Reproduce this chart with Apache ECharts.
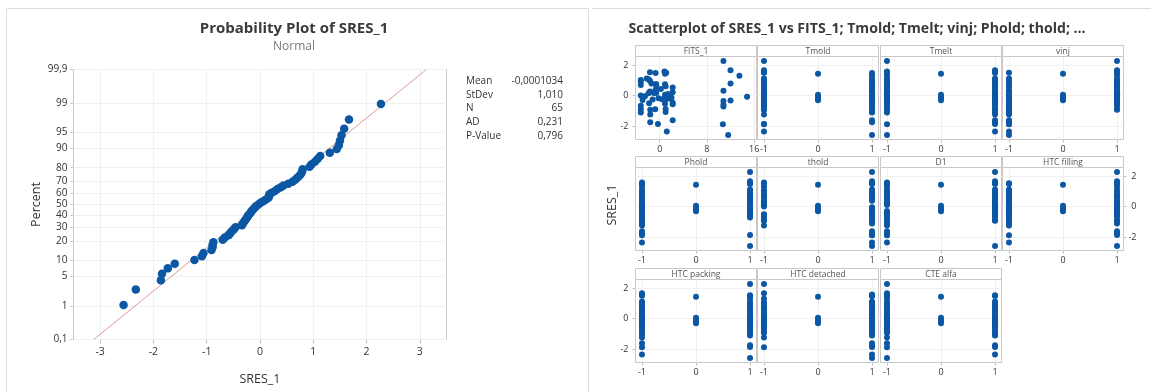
<!DOCTYPE html>
<html>
<head>
<meta charset="utf-8">
<script src="https://cdn.jsdelivr.net/npm/echarts@6/dist/echarts.min.js"></script>
<style>
  html, body { margin: 0; padding: 0; background: #ffffff; }
  #chart { width: 1151px; height: 392px; }
</style>
</head>
<body>
<div id="chart"></div>
<script>
// ---- Data -------------------------------------------------------------
// Standardized residuals SRES_1, one per run, in ascending order
const sres = [
  -2.56, -2.33, -1.86, -1.84, -1.73, -1.60, -1.23, -1.09, -1.06, -0.91,
  -0.89, -0.89, -0.875, -0.70, -0.66, -0.59, -0.56, -0.53, -0.49, -0.46,
  -0.34, -0.32, -0.30, -0.275, -0.25, -0.23, -0.21, -0.18, -0.16, -0.13,
  -0.10, -0.075, -0.03, 0.01, 0.06, 0.11, 0.16, 0.17, 0.175, 0.22,
  0.28, 0.33, 0.39, 0.44, 0.53, 0.61, 0.66, 0.70, 0.74, 0.77,
  0.79, 0.80, 0.93, 0.97, 1.03, 1.08, 1.13, 1.31, 1.44, 1.48,
  1.50, 1.53, 1.58, 1.67, 2.27
];
// Fitted values FITS_1 for the same runs
const fits = [
  11.6, 1.2, 10.7, -0.3, -1.6, 2.2, -1.6, -3.2, 1.0, -1.6,
  -0.75, -3.2, 1.0, 10.8, -3.2, 10.8, 2.2, 0.9, -1.8, 2.2,
  10.8, 12.0, 0.9, -2.9, -1.2, 0.4, 0.9, 1.6, -0.2, 2.0,
  0.9, 14.8, -2.5, -3.2, 0.9, 1.4, -1.9, -0.6, -1.0, 2.2,
  -1.65, 10.8, -0.7, 0.2, 2.2, 1.0, -0.6, -3.2, 0.9, -0.6,
  -1.4, 12.0, -3.2, -1.65, -3.2, -1.9, -2.2, 13.5, 0.9, -0.7,
  1.1, -1.65, 0.8, 12.0, 10.8
];
// Coded factor settings (-1 / 0 / +1) for the same runs
const tmold = [
  1,-1,-1,-1,1,1,-1,1,1,-1, 1,-1,1,-1,1,-1,1,-1,1,-1, 1,-1,0,1,-1,1,0,-1,1,-1,
  0,1,-1,1,0,-1,1,-1,1,-1, 1,-1,1,-1,1,-1,1,-1,1,-1, 1,1,-1,1,-1,1,-1,1,0,1, -1,-1,-1,-1,-1
];
const tmelt = [
  -1,1,-1,1,1,1,1,-1,1,-1, 1,-1,1,-1,1,1,-1,1,-1,1, -1,1,0,-1,1,-1,0,-1,1,1,
  0,-1,1,-1,0,1,-1,1,-1,1, -1,1,-1,1,-1,1,-1,1,1,-1, 1,-1,1,-1,1,-1,1,-1,0,1, -1,1,-1,1,-1
];
const vinj = [
  -1,-1,-1,-1,-1,-1,-1,-1,-1,1, -1,1,-1,-1,1,-1,1,-1,1,-1, 1,-1,0,1,-1,1,0,-1,1,-1,
  0,1,-1,1,0,-1,1,-1,1,1, -1,1,-1,1,1,-1,1,-1,1,1, -1,1,1,-1,1,1,-1,1,0,1, -1,1,1,1,1
];
const phold = [
  1,-1,-1,1,-1,-1,-1,-1,-1,-1, -1,-1,-1,1,-1,1,-1,1,-1,1, -1,1,0,1,-1,1,0,-1,1,-1,
  0,-1,1,-1,0,-1,1,-1,1,-1, 1,-1,1,-1,1,-1,1,-1,1,-1, 1,-1,1,-1,1,-1,1,-1,0,1, -1,1,-1,1,1
];
const thold = [
  1,1,1,1,1,1,-1,1,1,-1, 1,-1,1,-1,1,-1,1,-1,-1,1, 1,1,0,1,1,1,0,1,1,1,
  0,1,1,-1,0,-1,-1,-1,-1,-1, -1,-1,1,-1,1,-1,1,-1,1,-1, 1,-1,1,-1,1,-1,1,-1,0,1, -1,1,-1,1,1
];
const d1 = [
  1,-1,-1,-1,-1,-1,-1,-1,-1,1, 1,-1,1,-1,1,-1,1,-1,-1,1, -1,1,0,-1,1,1,0,1,1,1,
  0,1,1,1,0,-1,1,-1,1,-1, 1,-1,1,-1,1,-1,1,-1,1,-1, 1,-1,1,-1,1,-1,1,-1,0,1, -1,1,-1,1,1
];
const htcFilling = [
  1,-1,-1,1,1,1,-1,1,-1,1, -1,1,-1,-1,1,-1,1,-1,1,-1, 1,-1,0,-1,1,-1,0,1,-1,1,
  0,-1,1,-1,0,1,-1,1,-1,1, -1,1,-1,1,-1,1,-1,1,-1,1, -1,1,-1,1,-1,1,-1,1,0,-1, 1,-1,1,1,1
];
const htcPacking = [
  1,-1,-1,1,1,-1,-1,1,-1,1, -1,1,-1,1,-1,1,-1,1,-1,1, -1,1,0,-1,1,-1,0,1,-1,1,
  0,-1,1,-1,0,1,-1,1,-1,1, -1,1,-1,1,-1,1,-1,1,-1,1, -1,1,-1,1,-1,1,-1,1,0,1, -1,1,-1,-1,1
];
const htcDetached = [
  1,1,-1,1,1,1,-1,1,1,-1, 1,-1,1,-1,1,-1,1,-1,1,-1, 1,-1,0,1,-1,1,0,-1,1,-1,
  0,1,-1,1,0,-1,1,-1,1,-1, 1,-1,1,-1,1,-1,1,-1,1,-1, 1,-1,1,-1,1,-1,1,-1,0,1, 1,1,1,-1,-1
];
const cteAlfa = [
  -1,1,-1,1,1,-1,-1,1,1,-1, 1,-1,1,-1,1,-1,1,-1,1,-1, 1,-1,0,1,-1,1,0,-1,1,-1,
  0,1,-1,1,0,-1,1,-1,1,-1, 1,-1,1,-1,1,-1,1,-1,1,-1, 1,-1,1,-1,1,-1,1,-1,0,1, -1,1,-1,-1,-1
];

const panelTitles = ['FITS_1', 'Tmold', 'Tmelt', 'vinj', 'Phold', 'thold', 'D1',
                     'HTC filling', 'HTC packing', 'HTC detached', 'CTE alfa'];
const panelX = [fits, tmold, tmelt, vinj, phold, thold, d1,
                htcFilling, htcPacking, htcDetached, cteAlfa];

// Normal-fit summary shown beside the probability plot
const statLabels = ['Mean', 'StDev', 'N', 'AD', 'P-Value'];
const statValues = ['-0,0001034', '1,010', '65', '0,231', '0,796'];
const fitMean = -0.0001034;
const fitStDev = 1.010;

// Tick values
const percentTicks = [0.1, 1, 5, 10, 20, 30, 40, 50, 60, 70, 80, 90, 95, 99, 99.9];
const sresTicks = [-3, -2, -1, 0, 1, 2, 3];
const fitsTicks = [0, 8, 16];
const levelTicks = [-1, 0, 1];
const residTicks = [-2, 0, 2];

// ---- Helpers ------------------------------------------------------------
// Inverse of the standard normal CDF (Acklam's rational approximation)
function normInv(p) {
  const a = [-3.969683028665376e+01, 2.209460984245205e+02, -2.759285104469687e+02,
             1.383577518672690e+02, -3.066479806614716e+01, 2.506628277459239e+00];
  const b = [-5.447609879822406e+01, 1.615858368580409e+02, -1.556989798598866e+02,
             6.680131188771972e+01, -1.328068155288572e+01];
  const c = [-7.784894002430293e-03, -3.223964580411365e-01, -2.400758277161838e+00,
             -2.549732539343734e+00, 4.374664141464968e+00, 2.938163982698783e+00];
  const d = [7.784695709041462e-03, 3.224671290700398e-01, 2.445134137142996e+00,
             3.754408661907416e+00];
  const pl = 0.02425, ph = 1 - pl;
  let q, r;
  if (p < pl) {
    q = Math.sqrt(-2 * Math.log(p));
    return (((((c[0]*q+c[1])*q+c[2])*q+c[3])*q+c[4])*q+c[5]) / ((((d[0]*q+d[1])*q+d[2])*q+d[3])*q+1);
  }
  if (p <= ph) {
    q = p - 0.5; r = q * q;
    return (((((a[0]*r+a[1])*r+a[2])*r+a[3])*r+a[4])*r+a[5])*q / (((((b[0]*r+b[1])*r+b[2])*r+b[3])*r+b[4])*r+1);
  }
  q = Math.sqrt(-2 * Math.log(1 - p));
  return -(((((c[0]*q+c[1])*q+c[2])*q+c[3])*q+c[4])*q+c[5]) / ((((d[0]*q+d[1])*q+d[2])*q+d[3])*q+1);
}

const FONT = "'Open Sans', 'Noto Sans', sans-serif";
const BLUE = '#0b57a4';
const FRAME = '#c8c8c8';
const GRIDLINE = '#f0f0f0';
const TEXT = '#333333';

// horizontal / vertical gridline segments spanning an axis range
const hLines = (vals, x0, x1) => vals.map(v => [{ coord: [x0, v] }, { coord: [x1, v] }]);
const vLines = (vals, y0, y1) => vals.map(v => [{ coord: [v, y0] }, { coord: [v, y1] }]);
const gridLineSeries = (idx, lines) => ({
  type: 'line', xAxisIndex: idx, yAxisIndex: idx, data: [], z: 1, silent: true,
  markLine: { silent: true, symbol: ['none', 'none'], z: 1, animation: false,
    label: { show: false }, emphasis: { disabled: true },
    lineStyle: { color: GRIDLINE, width: 1, type: 'solid' }, data: lines }
});

// ---- Probability plot --------------------------------------------------
const n = sres.length;
const zLo = normInv(0.001), zHi = normInv(0.999);
const percentZ = percentTicks.map(p => normInv(p / 100));
// Benard median ranks
const probPoints = sres.map((v, i) => [v, normInv((i + 1 - 0.3) / (n + 0.4))]);
const fitLine = [[fitMean + fitStDev * zLo, zLo], [fitMean + fitStDev * zHi, zHi]];

const fmtPercent = v => {
  const k = percentZ.findIndex(z => Math.abs(z - v) < 1e-6);
  return k < 0 ? '' : String(percentTicks[k]).replace('.', ',');
};

const grids = [{ left: 73.5, top: 69.5, width: 373, height: 270, show: true,
                 borderColor: FRAME, borderWidth: 1, backgroundColor: '#fff',
                 containLabel: false, outerBoundsMode: 'none' }];
const xAxes = [{
  gridIndex: 0, type: 'value', min: -3.5, max: 3.5, interval: 0.5,
  axisLine: { show: false, onZero: false },
  axisTick: { show: true, customValues: sresTicks, length: 4, lineStyle: { color: '#bdbdbd' } },
  axisLabel: { customValues: sresTicks, fontSize: 10.5, color: TEXT, fontFamily: FONT, margin: 7 },
  splitLine: { show: true, lineStyle: { color: GRIDLINE, width: 1 } },
  name: 'SRES_1', nameLocation: 'middle', nameGap: 33,
  nameTextStyle: { fontSize: 12.5, color: TEXT, fontFamily: FONT }
}];
const yAxes = [{
  gridIndex: 0, type: 'value', min: zLo - 1e-9, max: zHi + 1e-9,
  axisLine: { show: false, onZero: false },
  axisTick: { show: true, customValues: percentZ, length: 3, lineStyle: { color: '#bdbdbd' } },
  axisLabel: { customValues: percentZ, formatter: fmtPercent, fontSize: 10, color: TEXT,
               fontFamily: FONT, margin: 6, showMaxLabel: true, showMinLabel: true,
               hideOverlap: false },
  splitLine: { show: false },
  name: 'Percent', nameLocation: 'middle', nameGap: 31,
  nameTextStyle: { fontSize: 12.5, color: TEXT, fontFamily: FONT }
}];
const series = [
  gridLineSeries(0, hLines(percentZ, -3.5, 3.5)),
  { type: 'line', xAxisIndex: 0, yAxisIndex: 0, data: fitLine, showSymbol: false,
    lineStyle: { color: '#dc9a9a', width: 1 }, z: 2, silent: true },
  { type: 'scatter', xAxisIndex: 0, yAxisIndex: 0, data: probPoints, symbolSize: 8.5,
    itemStyle: { color: BLUE, opacity: 1 }, z: 3, silent: true }
];

// ---- Scatterplot matrix -----------------------------------------------
const COL_LEFT = [635.5, 757.5, 880.5, 1002.5];
const ROW_TOP = [56.5, 167.5, 279.5];
const PANEL_W = 121, PANEL_H = 83, STRIP_H = 11;
const RESID_MIN = -2.86, RESID_MAX = 2.56;
const graphics = [];

panelTitles.forEach((title, k) => {
  const col = k % 4, row = Math.floor(k / 4);
  const gi = k + 1;
  const isFits = k === 0;
  const xTicks = isFits ? fitsTicks : levelTicks;
  const xMin = isFits ? -4.1 : -1.12, xMax = isFits ? 16.4 : 1.12;
  const left = COL_LEFT[col], top = ROW_TOP[row];
  grids.push({ left: left, top: top, width: PANEL_W, height: PANEL_H, show: true,
               borderColor: FRAME, borderWidth: 1, containLabel: false, outerBoundsMode: 'none' });
  xAxes.push({
    gridIndex: gi, type: 'value', min: xMin, max: xMax,
    axisLine: { show: false, onZero: false },
    axisTick: { show: true, customValues: xTicks, length: 3, lineStyle: { color: '#bdbdbd' } },
    axisLabel: { customValues: xTicks, fontSize: 9, color: TEXT, fontFamily: FONT, margin: 5 },
    splitLine: { show: false }
  });
  const leftLabels = col === 0 && row !== 1;
  const rightLabels = row === 1 && col === 3;
  yAxes.push({
    gridIndex: gi, type: 'value', min: RESID_MIN, max: RESID_MAX,
    position: rightLabels ? 'right' : 'left',
    axisLine: { show: false, onZero: false },
    axisTick: { show: leftLabels || rightLabels, customValues: residTicks, length: 3,
                lineStyle: { color: '#bdbdbd' } },
    axisLabel: { show: leftLabels || rightLabels, customValues: residTicks, fontSize: 9,
                 color: TEXT, fontFamily: FONT, margin: rightLabels ? 13 : 7,
                 align: 'right' },
    splitLine: { show: false }
  });
  series.push(gridLineSeries(gi,
    hLines(residTicks, xMin, xMax).concat(vLines(xTicks, RESID_MIN, RESID_MAX))));
  series.push({
    type: 'scatter', xAxisIndex: gi, yAxisIndex: gi,
    data: sres.map((v, i) => [panelX[k][i], v]),
    symbolSize: 6, itemStyle: { color: BLUE, opacity: 1 }, z: 3, silent: true
  });
  // header strip with the predictor name
  graphics.push({
    type: 'rect', silent: true, z: 10,
    shape: { x: left, y: top - STRIP_H, width: PANEL_W, height: STRIP_H },
    style: { fill: '#ffffff', stroke: FRAME, lineWidth: 1 }
  });
  graphics.push({
    type: 'text', silent: true, z: 11, x: left + PANEL_W / 2, y: top - STRIP_H / 2 + 0.5,
    style: { text: title, fontSize: 8.5, fontFamily: FONT, fill: '#555555',
             align: 'center', verticalAlign: 'middle' }
  });
});

// ---- Cards, titles and stat box ---------------------------------------
graphics.push(
  { type: 'rect', silent: true, z: 0,
    shape: { x: 6.5, y: 8.5, width: 582, height: 400 },
    style: { fill: 'none', stroke: '#dcdcdc', lineWidth: 1 } },
  { type: 'line', silent: true, z: 0,
    shape: { x1: 592, y1: 8.5, x2: 1151, y2: 8.5 },
    style: { stroke: '#dcdcdc', lineWidth: 1 } },
  { type: 'text', silent: true, z: 11, x: 294, y: 29,
    style: { text: 'Probability Plot of SRES_1', fontSize: 15, fontWeight: 'bold',
             fontFamily: FONT, fill: '#3a3a3a', align: 'center', verticalAlign: 'middle' } },
  { type: 'text', silent: true, z: 11, x: 294, y: 46.5,
    style: { text: 'Normal', fontSize: 12, fontFamily: FONT, fill: '#7b7b7b',
             align: 'center', verticalAlign: 'middle' } },
  { type: 'text', silent: true, z: 11, x: 857, y: 29,
    style: { text: 'Scatterplot of SRES_1 vs FITS_1; Tmold; Tmelt; vinj; Phold; thold; ...',
             fontSize: 14.1, fontWeight: 'bold', fontFamily: FONT, fill: '#3a3a3a',
             align: 'center', verticalAlign: 'middle' } },
  { type: 'text', silent: true, z: 11, x: 612, y: 205, rotation: Math.PI / 2,
    style: { text: 'SRES_1', fontSize: 12.5, fontFamily: FONT, fill: TEXT,
             align: 'center', verticalAlign: 'middle' } }
);
statLabels.forEach((lab, i) => {
  const y = 81 + i * 13.7;
  graphics.push(
    { type: 'text', silent: true, z: 11, x: 466, y: y,
      style: { text: lab, fontSize: 10, fontFamily: FONT, fill: TEXT,
               align: 'left', verticalAlign: 'middle' } },
    { type: 'text', silent: true, z: 11, x: 563, y: y,
      style: { text: statValues[i], fontSize: 10, fontFamily: FONT, fill: TEXT,
               align: 'right', verticalAlign: 'middle' } }
  );
});

const chart = echarts.init(document.getElementById('chart'), null, { renderer: 'canvas' });
chart.setOption({
  animation: false,
  backgroundColor: '#ffffff',
  textStyle: { fontFamily: FONT },
  grid: grids,
  xAxis: xAxes,
  yAxis: yAxes,
  series: series,
  graphic: { elements: graphics }
});
</script>
</body>
</html>
